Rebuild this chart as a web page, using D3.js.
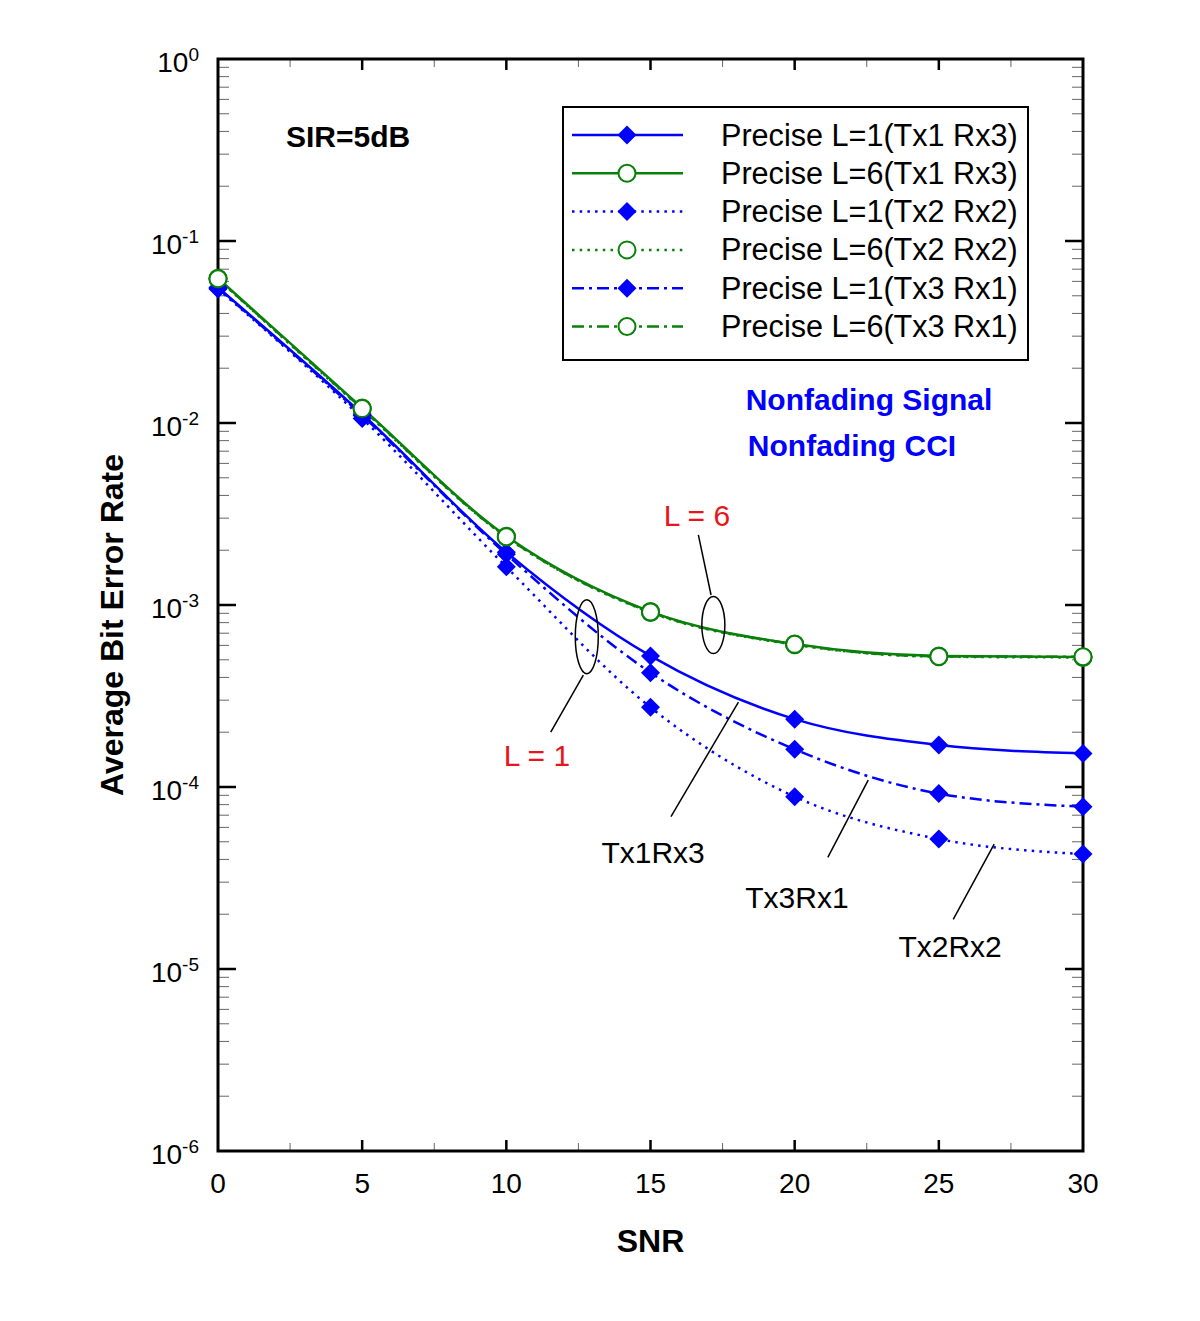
<!DOCTYPE html>
<html><head><meta charset="utf-8">
<script src="https://cdn.jsdelivr.net/npm/d3@7"></script>
<style>body{margin:0;background:#fff}svg{display:block}text{font-family:Arial,"Liberation Sans",sans-serif}</style>
</head><body><svg id="c" width="1200" height="1321"></svg>
<script>
// ---- data ----
const snr = [0, 5, 10, 15, 20, 25, 30];
const berL1Tx1Rx3 = [0.0555, 0.0112, 0.00195, 5.25e-4, 2.36e-4, 1.70e-4, 1.53e-4];
const berL6Tx1Rx3 = [0.0624, 0.0121, 0.00239, 9.2e-4, 6.1e-4, 5.25e-4, 5.18e-4];
const berL1Tx2Rx2 = [0.0545, 0.0106, 0.00162, 2.74e-4, 8.85e-5, 5.18e-5, 4.28e-5];
const berL6Tx2Rx2 = [0.0618, 0.0119, 0.00236, 9.1e-4, 6.05e-4, 5.2e-4, 5.15e-4];
const berL1Tx3Rx1 = [0.0550, 0.0110, 0.00190, 4.25e-4, 1.61e-4, 9.2e-5, 7.8e-5];
const berL6Tx3Rx1 = [0.0620, 0.0120, 0.00237, 9.15e-4, 6.08e-4, 5.22e-4, 5.2e-4];
const seriesNames = ["Precise L=1(Tx1 Rx3)", "Precise L=6(Tx1 Rx3)", "Precise L=1(Tx2 Rx2)",
                     "Precise L=6(Tx2 Rx2)", "Precise L=1(Tx3 Rx1)", "Precise L=6(Tx3 Rx1)"];
const xTicks = [0, 5, 10, 15, 20, 25, 30];
const yTickExps = [0, -1, -2, -3, -4, -5, -6];

// ---- styles ----
const BLUE = "#0000ff", GREEN = "#0a800a";
const series = [
  {name: seriesNames[0], v: berL1Tx1Rx3, color: BLUE, dash: null, marker: "diamond"},
  {name: seriesNames[1], v: berL6Tx1Rx3, color: GREEN, dash: null, marker: "circle"},
  {name: seriesNames[2], v: berL1Tx2Rx2, color: BLUE, dash: "2.5,5.2", marker: "diamond"},
  {name: seriesNames[3], v: berL6Tx2Rx2, color: GREEN, dash: "2.5,5.2", marker: "circle"},
  {name: seriesNames[4], v: berL1Tx3Rx1, color: BLUE, dash: "12,5,3,5", marker: "diamond"},
  {name: seriesNames[5], v: berL6Tx3Rx1, color: GREEN, dash: "12,5,3,5", marker: "circle"}
];

const svg = d3.select("#c");
const L = 218, R = 1083, T = 59, B = 1151;
const x = d3.scaleLinear().domain([0, 30]).range([L, R]);
const y = d3.scaleLog().domain([1e-6, 1]).range([B, T]);

// ticks
const tg = svg.append("g");
for (let v = 0; v <= 30; v += 2.5) {
  const major = v % 5 === 0;
  if (v === 0 || v === 30) continue;
  tg.append("line").attr("x1", x(v)).attr("x2", x(v)).attr("y1", B).attr("y2", B - (major ? 11 : 8))
    .attr("stroke", major ? "#000" : "#666").attr("stroke-width", major ? 2.5 : 1);
  tg.append("line").attr("x1", x(v)).attr("x2", x(v)).attr("y1", T).attr("y2", T + (major ? 11 : 8))
    .attr("stroke", major ? "#000" : "#666").attr("stroke-width", major ? 2.5 : 1);
}
for (let e = -6; e <= 0; e++) {
  const base = Math.pow(10, e);
  if (e > -6 && e < 0) {
    [[L, 1], [R, -1]].forEach(([px, d]) =>
      tg.append("line").attr("x1", px).attr("x2", px + d * 18).attr("y1", y(base)).attr("y2", y(base))
        .attr("stroke", "#000").attr("stroke-width", 2.5));
  }
  if (e < 0) {
    for (let m = 2; m <= 9; m++) {
      const v = m * base;
      [[L, 1], [R, -1]].forEach(([px, d]) =>
        tg.append("line").attr("x1", px).attr("x2", px + d * 11).attr("y1", y(v)).attr("y2", y(v))
          .attr("stroke", "#666").attr("stroke-width", 1));
    }
  }
}

// frame
svg.append("rect").attr("x", L).attr("y", T).attr("width", R - L).attr("height", B - T)
  .attr("fill", "none").attr("stroke", "#000").attr("stroke-width", 3);

// tick labels
xTicks.forEach(v => svg.append("text").attr("x", x(v)).attr("y", B + 42).attr("text-anchor", "middle")
  .attr("font-size", 28).text(v));
yTickExps.forEach(e => {
  const t = svg.append("text").attr("x", 199).attr("y", y(Math.pow(10, e)) + 13).attr("text-anchor", "end")
    .attr("font-size", 28);
  t.append("tspan").text("10");
  t.append("tspan").attr("dy", -11).attr("font-size", 19).text(String(e));
});

// axis titles
svg.append("text").attr("x", (L + R) / 2).attr("y", 1252).attr("text-anchor", "middle")
  .attr("font-size", 32).attr("font-weight", "bold").text("SNR");
svg.append("text").attr("transform", `translate(123,${(T + B) / 2 + 20}) rotate(-90)`).attr("text-anchor", "middle")
  .attr("font-size", 32).attr("font-weight", "bold").text("Average Bit Error Rate");

const line = d3.line().x(d => x(d[0])).y(d => y(d[1])).curve(d3.curveMonotoneX);
const diamond = s => `M0,${-s}L${s},0L0,${s}L${-s},0Z`;
function drawMarker(g, type, cx, cy, color) {
  if (type === "diamond") {
    g.append("path").attr("d", diamond(9.5)).attr("transform", `translate(${cx},${cy})`).attr("fill", color);
  } else {
    g.append("circle").attr("cx", cx).attr("cy", cy).attr("r", 8.5).attr("fill", "#fff")
      .attr("stroke", color).attr("stroke-width", 2);
  }
}

const pg = svg.append("g");
series.forEach(s => {
  const pts = snr.map((xv, i) => [xv, s.v[i]]);
  pg.append("path").attr("d", line(pts)).attr("fill", "none").attr("stroke", s.color)
    .attr("stroke-width", 2.5).attr("stroke-dasharray", s.dash);
});
series.forEach(s => {
  snr.forEach((xv, i) => drawMarker(pg, s.marker, x(xv), y(s.v[i]), s.color));
});

// legend
const lg = svg.append("g");
lg.append("rect").attr("x", 563).attr("y", 107).attr("width", 465).attr("height", 253)
  .attr("fill", "#fff").attr("stroke", "#000").attr("stroke-width", 2);
series.forEach((s, i) => {
  const cy = 135 + i * 38.3;
  lg.append("line").attr("x1", 572).attr("x2", 683).attr("y1", cy).attr("y2", cy)
    .attr("stroke", s.color).attr("stroke-width", 2.5).attr("stroke-dasharray", s.dash);
  drawMarker(lg, s.marker, 627, cy, s.color);
  lg.append("text").attr("x", 721).attr("y", cy + 10.5).attr("font-size", 30.6).text(s.name);
});

// annotations (data coordinates)
svg.append("text").attr("x", x(4.51)).attr("y", 147).attr("text-anchor", "middle")
  .attr("font-size", 30).attr("font-weight", "bold").text("SIR=5dB");
svg.append("text").attr("x", 869).attr("y", 410).attr("text-anchor", "middle")
  .attr("font-size", 30).attr("font-weight", "bold").attr("fill", BLUE).text("Nonfading Signal");
svg.append("text").attr("x", 852).attr("y", 456).attr("text-anchor", "middle")
  .attr("font-size", 30).attr("font-weight", "bold").attr("fill", BLUE).text("Nonfading CCI");

const ellipses = [
  {cx: 12.79, cy: 6.70e-4, rx: 11.5, ry: 37},
  {cx: 17.18, cy: 7.76e-4, rx: 11.5, ry: 28.5}
];
ellipses.forEach(e => svg.append("ellipse").attr("cx", x(e.cx)).attr("cy", y(e.cy)).attr("rx", e.rx).attr("ry", e.ry)
  .attr("fill", "none").attr("stroke", "#000").attr("stroke-width", 1.5));

const leaders = [
  [[16.66, 2.43e-3], [17.10, 1.135e-3]],
  [[12.67, 4.12e-4], [11.54, 2.0e-4]],
  [[18.05, 2.93e-4], [15.71, 6.87e-5]],
  [[22.55, 1.09e-4], [21.15, 4.11e-5]],
  [[26.92, 4.86e-5], [25.50, 1.875e-5]]
];
leaders.forEach(([a, b]) => svg.append("line").attr("x1", x(a[0])).attr("y1", y(a[1]))
  .attr("x2", x(b[0])).attr("y2", y(b[1])).attr("stroke", "#000").attr("stroke-width", 1.5));

const labels = [
  {t: "L = 6", x: 16.61, y: 2.72e-3, c: "#e8161b"},
  {t: "L = 1", x: 11.06, y: 1.30e-4, c: "#e8161b"},
  {t: "Tx1Rx3", x: 15.09, y: 3.82e-5, c: "#000"},
  {t: "Tx3Rx1", x: 20.08, y: 2.16e-5, c: "#000"},
  {t: "Tx2Rx2", x: 25.39, y: 1.16e-5, c: "#000"}
];
labels.forEach(l => svg.append("text").attr("x", x(l.x)).attr("y", y(l.y)).attr("text-anchor", "middle")
  .attr("font-size", 30).attr("fill", l.c).text(l.t));
</script></body></html>
